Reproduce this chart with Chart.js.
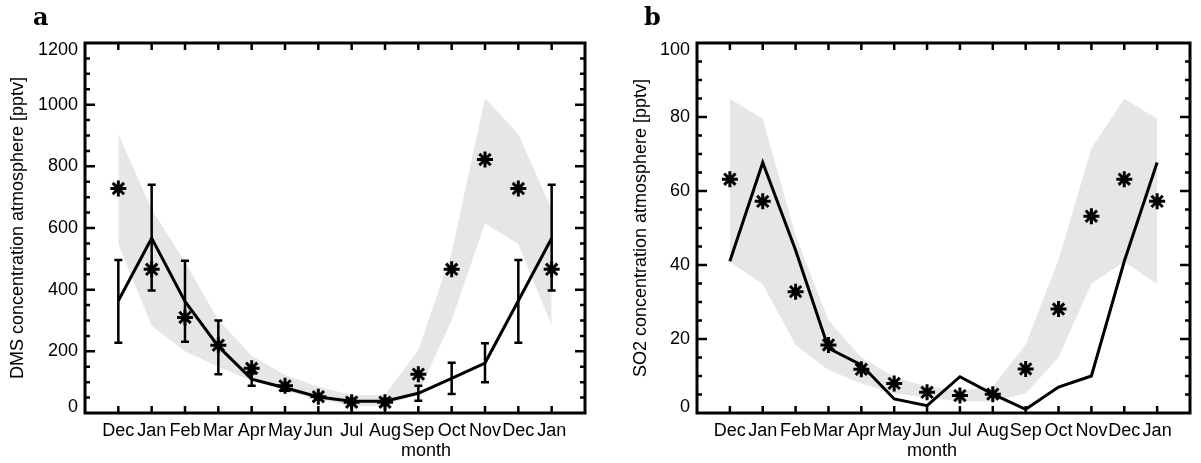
<!DOCTYPE html>
<html lang="en">
<head>
  <meta charset="UTF-8" />
  <title>DMS and SO2 in the atmosphere</title>
  <script src="https://cdn.jsdelivr.net/npm/chart.js"></script>
  <style>
    body { margin: 0; background: #fff; font-family: 'Liberation Sans', Arial, sans-serif; }
    #wrap { position: relative; width: 1201px; height: 463px; overflow: hidden; }
    canvas { position: absolute; top: 0; }
    #chartA { left: 0; }
    #chartB { left: 600px; }
    .panel { position: absolute; top: 5px; font-family: 'DejaVu Serif', serif; font-weight: bold; font-size: 24px; line-height: 24px; }
    .xlab { position: absolute; top: 441px; font-size: 18px; line-height: 18px; transform: translateX(-50%); }
  </style>
</head>
<body>
  <div id="wrap">
    <canvas id="chartA" width="600" height="463"></canvas>
    <canvas id="chartB" width="601" height="463"></canvas>
    <div class="panel" style="left:33px">a</div>
    <div class="panel" style="left:644px">b</div>
    <div class="xlab" style="left:426px">month</div>
    <div class="xlab" style="left:932px">month</div>
  </div>

  <script>
    const months = ['Dec', 'Jan', 'Feb', 'Mar', 'Apr', 'May', 'Jun', 'Jul', 'Aug', 'Sep', 'Oct', 'Nov', 'Dec', 'Jan'];

    // panel a: DMS
    const dmsObs      = [728, 466, 310, 220, 145, 88, 53, 35, 35, 126, 466, 822, 728, 466];
    const dmsModel    = [364, 567, 362, 216, 110, 82, 52, 38, 38, 64, 112, 162, 364, 567];
    const dmsErrLow   = [228, 397, 231, 126, 88, 72, 44, 30, 30, 40, 62, 100, 228, 397];
    const dmsErrHigh  = [496, 740, 494, 300, 128, 94, 60, 46, 46, 88, 163, 226, 496, 740];
    const dmsBandHigh = [905, 660, 490, 302, 186, 123, 85, 58, 58, 204, 520, 1021, 905, 660];
    const dmsBandLow  = [548, 283, 200, 150, 105, 72, 45, 22, 22, 64, 302, 615, 548, 283];

    // panel b: SO2
    const so2Obs      = [63.2, 57.2, 32.8, 18.4, 11.8, 8.0, 5.6, 4.7, 5.1, 11.9, 28.1, 53.2, 63.2, 57.2];
    const so2Model    = [41, 67.7, 44, 17.5, 13, 3.8, 2.0, 9.8, 5.1, 1.0, 7.0, 10.0, 41, 67.7];
    const so2BandHigh = [84.9, 79.5, 48, 25, 15, 9.8, 7.1, 6.2, 7.1, 18.5, 41.4, 71.5, 84.9, 79.5];
    const so2BandLow  = [40.9, 34.8, 18.4, 11.6, 8.0, 5.3, 4.2, 3.1, 3.1, 5.3, 15.0, 35.0, 40.9, 34.8];

    const FONT = '"Liberation Sans", Arial, sans-serif';

    // box frame, inward ticks and y labels (IDL style)
    const frameTicks = {
      id: 'frameTicks',
      afterDraw(chart, args, opts) {
        const { ctx, chartArea: a, scales: { x, y } } = chart;
        ctx.save();
        ctx.strokeStyle = '#000';
        ctx.lineWidth = 2.5;
        ctx.beginPath();
        months.forEach((m, i) => {
          const px = x.getPixelForValue(i + 1);
          ctx.moveTo(px, a.bottom); ctx.lineTo(px, a.bottom - 7);
          ctx.moveTo(px, a.top); ctx.lineTo(px, a.top + 7);
        });
        const n = Math.round((y.max - y.min) / opts.minor);
        for (let k = 1; k < n; k++) {
          const py = y.getPixelForValue(y.min + k * opts.minor);
          const len = k % opts.per === 0 ? 10 : 5;
          ctx.moveTo(a.left, py); ctx.lineTo(a.left + len, py);
          ctx.moveTo(a.right, py); ctx.lineTo(a.right - len, py);
        }
        ctx.stroke();
        ctx.lineWidth = 3;
        ctx.strokeRect(a.left, a.top, a.right - a.left, a.bottom - a.top);

        ctx.fillStyle = '#000';
        ctx.font = '18px ' + FONT;
        ctx.textAlign = 'right';
        ctx.textBaseline = 'middle';
        y.ticks.forEach(t => {
          let py = y.getPixelForValue(t.value);
          if (t.value === y.max) py += 7;
          if (t.value === y.min) py -= 6;
          ctx.fillText(String(t.value), a.left - 7, py);
        });
        ctx.restore();
      }
    };

    const errorBars = {
      id: 'errorBars',
      afterDatasetDraw(chart, args, opts) {
        if (args.index !== 1 || !opts.low) return;
        const { ctx, scales: { x, y } } = chart;
        ctx.save();
        ctx.strokeStyle = '#000';
        ctx.lineWidth = 2.5;
        ctx.beginPath();
        opts.low.forEach((lo, i) => {
          const px = x.getPixelForValue(i + 1);
          const y0 = y.getPixelForValue(lo);
          const y1 = y.getPixelForValue(opts.high[i]);
          ctx.moveTo(px, y0); ctx.lineTo(px, y1);
          ctx.moveTo(px - 4, y0); ctx.lineTo(px + 4, y0);
          ctx.moveTo(px - 4, y1); ctx.lineTo(px + 4, y1);
        });
        ctx.stroke();
        ctx.restore();
      }
    };

    const pts = arr => arr.map((v, i) => ({ x: i + 1, y: v }));

    function makePanel(id, cfg) {
      return new Chart(document.getElementById(id), {
        type: 'line',
        data: {
          datasets: [
            { data: pts(cfg.obs), showLine: false, pointStyle: 'star', pointRadius: 8,
              pointBorderWidth: 3, pointBorderColor: '#000', borderColor: '#000', backgroundColor: '#000' },
            { data: pts(cfg.model), borderColor: '#000', borderWidth: 3, pointRadius: 0, fill: false },
            { data: pts(cfg.bandHigh), borderColor: 'rgba(0,0,0,0)', borderWidth: 0, pointRadius: 0,
              backgroundColor: '#e6e6e6', fill: '+1' },
            { data: pts(cfg.bandLow), borderColor: 'rgba(0,0,0,0)', borderWidth: 0, pointRadius: 0, fill: false }
          ]
        },
        plugins: cfg.err ? [frameTicks, errorBars] : [frameTicks],
        options: {
          responsive: false,
          animation: false,
          devicePixelRatio: 1,
          layout: { padding: { top: 43, right: cfg.padRight, left: 0, bottom: 0 } },
          elements: { line: { tension: 0 } },
          plugins: {
            legend: { display: false },
            tooltip: { enabled: false },
            frameTicks: { minor: cfg.minor, per: cfg.per },
            errorBars: cfg.err || {}
          },
          scales: {
            x: {
              type: 'linear', min: 0, max: 15,
              grid: { display: false, drawTicks: false },
              border: { display: false },
              ticks: {
                stepSize: 1, autoSkip: false, maxRotation: 0, padding: 7, color: '#000',
                font: { family: FONT, size: 18 },
                callback: v => months[v - 1] || ''
              },
              afterFit: s => { s.height = 50; }
            },
            y: {
              min: 0, max: cfg.max,
              grid: { display: false, drawTicks: false },
              border: { display: false },
              ticks: { display: false, stepSize: cfg.step },
              title: {
                display: true, text: cfg.title, color: '#000',
                font: { family: FONT, size: 18 },
                padding: { top: cfg.titlePad, bottom: 0 }
              },
              afterFit: s => { s.width = cfg.yWidth; }
            }
          }
        }
      });
    }

    makePanel('chartA', {
      obs: dmsObs, model: dmsModel, bandHigh: dmsBandHigh, bandLow: dmsBandLow,
      err: { low: dmsErrLow, high: dmsErrHigh },
      max: 1200, step: 200, minor: 50, per: 4,
      title: 'DMS concentration atmosphere [pptv]',
      yWidth: 85, padRight: 15, titlePad: 7
    });

    makePanel('chartB', {
      obs: so2Obs, model: so2Model, bandHigh: so2BandHigh, bandLow: so2BandLow,
      err: null,
      max: 100, step: 20, minor: 5, per: 4,
      title: 'SO2 concentration atmosphere [pptv]',
      yWidth: 97, padRight: 4, titlePad: 30
    });
  </script>
</body>
</html>
